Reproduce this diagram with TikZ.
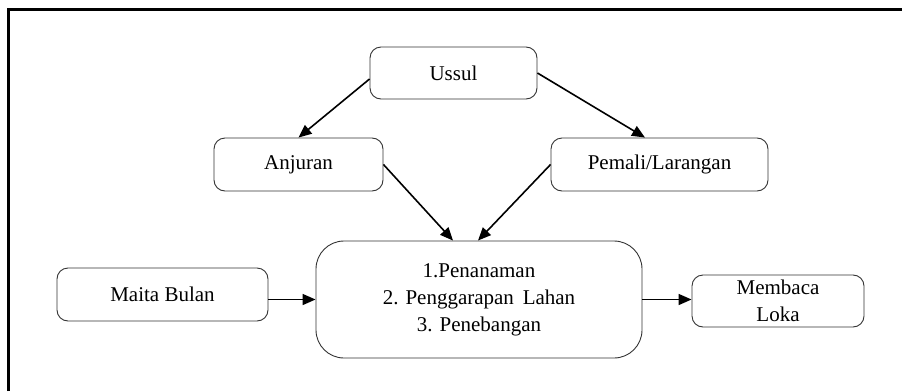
\documentclass[tikz,border=0pt]{standalone}
\usepackage{fontspec}
\setmainfont{Liberation Serif}
\usetikzlibrary{arrows.meta,calc}
\begin{document}
\begin{tikzpicture}[x=1pt,y=-1pt,
  box/.style={draw=black!80, line width=0.9pt, rounded corners=11pt, inner sep=0pt,
    align=center, font=\fontsize{21}{27}\selectfont},
  arr/.style={line width=1.6pt, -{Triangle[length=13pt,width=11pt]}},
  frame/.style={line width=3pt}]
\useasboundingbox (0,0) rectangle (902,391);
\coordinate (fbl) at (8,391);
\coordinate (ftl) at (8,9);
\coordinate (ftr) at (902,9);
\draw[frame] (fbl) -- (ftl) -- (ftr);
\node[box, minimum width=167pt, minimum height=52pt] (ussul) at (453.5,73) {Ussul};
\node[box, minimum width=169pt, minimum height=53pt] (anjuran) at (298.5,164.5) {Anjuran};
\node[box, minimum width=217pt, minimum height=53pt] (pemali) at (659.5,164.5) {Pemali/Larangan};
\node[box, minimum width=211pt, minimum height=53pt] (maita) at (162.5,294.5) {Maita Bulan};
\node[box, rounded corners=28pt, minimum width=326pt, minimum height=117pt] (main) at (479,299.5)
  {1.Penanaman\\2. Penggarapan\ \,Lahan\\3. Penebangan};
\node[box, minimum width=172pt, minimum height=52pt] (membaca) at (778,301) {Membaca\\Loka};
\draw[arr] ($(ussul.west)+(0,6)$) -- (anjuran.north);
\draw[arr] (ussul.east) -- ($(pemali.north)+(-14.5,0)$);
\draw[arr] (anjuran.east) -- ($(main.north)+(-26,0)$);
\draw[arr] (pemali.west) -- ($(main.north)+(-1,0)$);
\draw[arr] (maita.east |- main.west) -- (main.west);
\draw[arr] (main.east) -- (membaca.west |- main.east);
\end{tikzpicture}
\end{document}
